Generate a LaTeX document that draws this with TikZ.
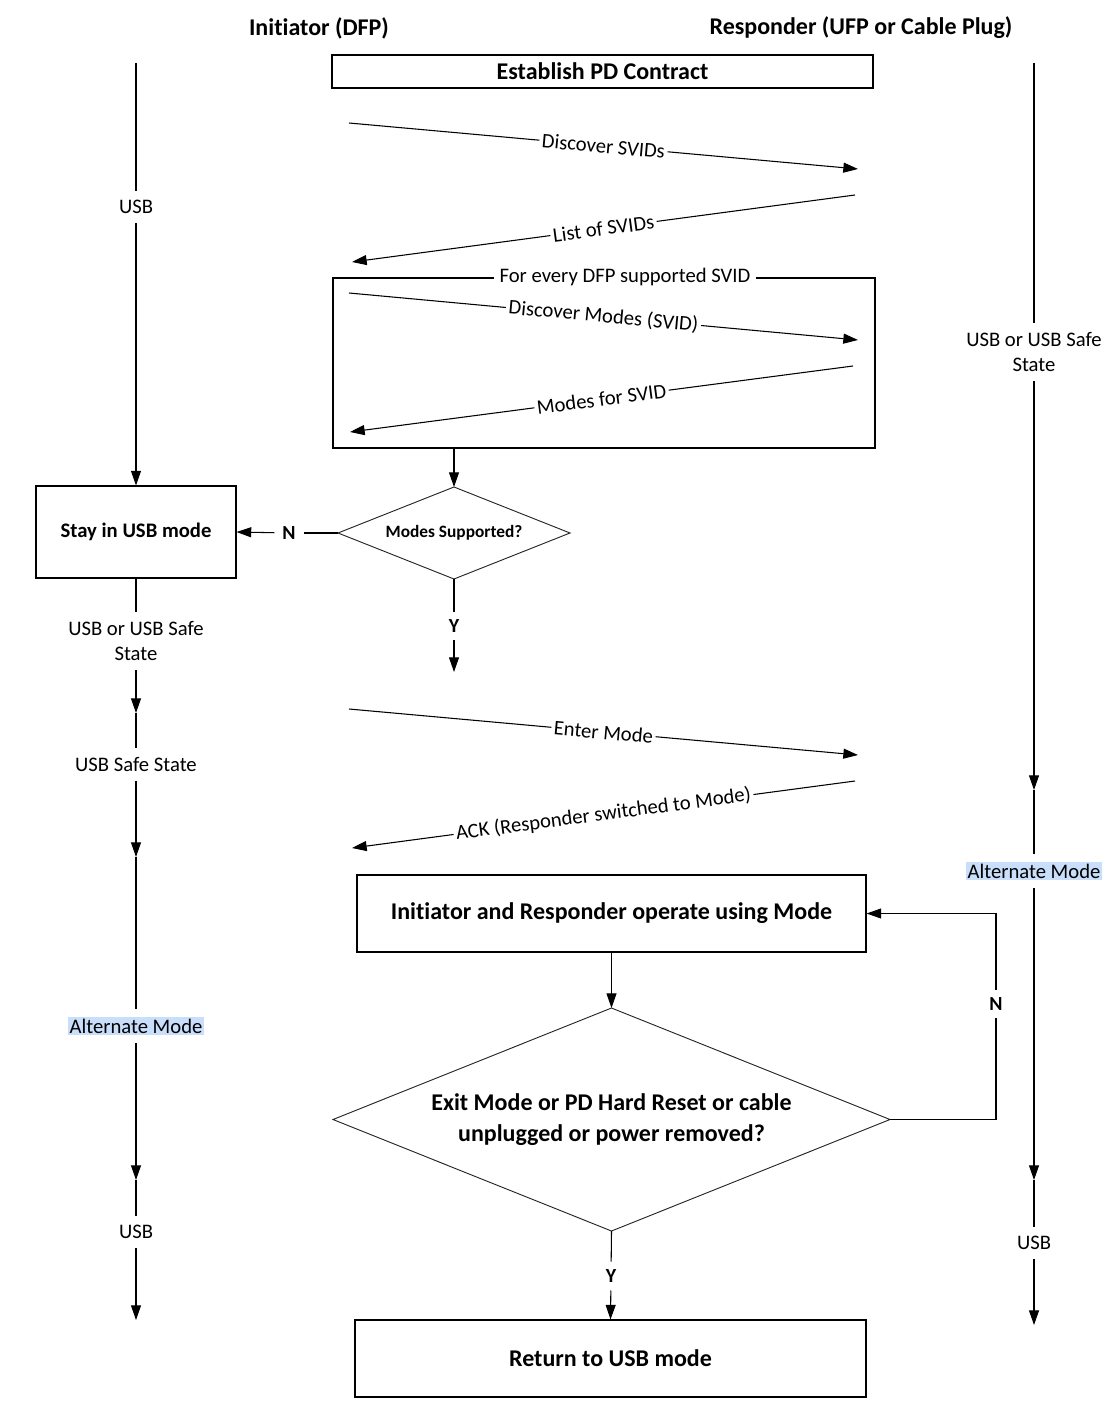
\documentclass[tikz,border=0pt]{standalone}
\usepackage{fontspec}
\setmainfont[Ligatures=NoCommon]{Carlito}
\usetikzlibrary{arrows.meta}
\definecolor{altblue}{RGB}{200,222,250}
\begin{document}
\begin{tikzpicture}[x=0.75pt,y=-0.75pt,
  line width=0.8pt,
  arr/.style={-{Triangle[length=11pt,width=7.5pt]}},
  lbl/.style={font=\fontsize{15.5}{18.5}\selectfont, align=center, inner sep=1pt, outer sep=6pt},
  alt/.style={lbl, fill=altblue, inner sep=1.5pt},
  yn/.style={font=\bfseries\fontsize{15}{18}\selectfont, inner sep=1pt, outer sep=5pt},
  hdr/.style={font=\bfseries\fontsize{18}{21}\selectfont},
  box/.style={draw, align=center, font=\bfseries\fontsize{18}{21}\selectfont, inner sep=0pt},
  dia/.style={draw=black!85, line width=0.7pt},
  msg/.style={font=\fontsize{15.5}{18.5}\selectfont, sloped, fill=white, inner sep=2pt},
]
\useasboundingbox (0,0) rectangle (1117,1426);

% headers
\node[hdr] (hinit) at (319,28) {Initiator (DFP)};
\node[hdr] (hresp) at (861,28) {Responder (UFP or Cable Plug)};

% boxes
\node[box, minimum width=405.75pt, minimum height=24.75pt] (est) at (602.5,71.5) {Establish PD Contract};
\node[box, minimum width=150pt, minimum height=69pt, font=\bfseries\fontsize{15.5}{18.5}\selectfont] (stay) at (136,532) {Stay in USB mode};
\node[draw, minimum width=406.5pt, minimum height=127.5pt, inner sep=0pt] (loop) at (604,363) {};
\node[font=\fontsize{15.5}{18.5}\selectfont, fill=white, inner sep=4pt] (looptitle) at (625,277) {For every DFP supported SVID};

% small decision
\node[font=\bfseries\fontsize{13}{15}\selectfont] (sd) at (454,533) {Modes Supported?};
\coordinate (sdN) at (454,487); \coordinate (sdS) at (454,579);
\coordinate (sdW) at (338,533); \coordinate (sdE) at (570,533);
\draw[dia] (sdN) -- (sdE) -- (sdS) -- (sdW) -- cycle;

\node[box, minimum width=381.75pt, minimum height=57.75pt] (op) at (611.5,913.5) {Initiator and Responder operate using Mode};

% big decision
\node[align=center, font=\bfseries\fontsize{18}{23}\selectfont] (bd) at (611.5,1119.5) {Exit Mode or PD Hard Reset or cable\\unplugged or power removed?};
\coordinate (bdN) at (611.5,1008); \coordinate (bdS) at (611.5,1231);
\coordinate (bdW) at (333,1119.5); \coordinate (bdE) at (890,1119.5);
\draw[dia] (bdN) -- (bdE) -- (bdS) -- (bdW) -- cycle;

\node[box, minimum width=383.25pt, minimum height=57.75pt] (ret) at (610.5,1358.5) {Return to USB mode};

% messages
\coordinate (m1s) at (349,123); \coordinate (m1e) at (858,169);
\draw[arr] (m1s) -- node[msg]{Discover SVIDs} (m1e);
\coordinate (m2s) at (855,195); \coordinate (m2e) at (352,262);
\draw[arr] (m2s) -- node[msg]{List of SVIDs} (m2e);
\coordinate (m3s) at (349,293); \coordinate (m3e) at (858,340);
\draw[arr] (m3s) -- node[msg]{Discover Modes (SVID)} (m3e);
\coordinate (m4s) at (853,366); \coordinate (m4e) at (350,432);
\draw[arr] (m4s) -- node[msg]{Modes for SVID} (m4e);
\coordinate (m5s) at (349,709); \coordinate (m5e) at (858,755);
\draw[arr] (m5s) -- node[msg]{Enter Mode} (m5e);
\coordinate (m6s) at (855,781); \coordinate (m6e) at (352,848);
\draw[arr] (m6s) -- node[msg]{ACK (Responder switched to Mode)} (m6e);

% center flow
\draw[arr] (sdN |- loop.south) -- (sdN);
\node[yn] (n1) at (289,533) {N};
\draw (sdW) -- (n1);
\draw[arr] (n1) -- (stay.east);
\node[yn] (y1) at (454,626) {Y};
\coordinate (y1end) at (454,672);
\draw (sdS) -- (y1);
\draw[arr] (y1) -- (y1end);
\draw[arr] (op.south) -- (bdN);
\node[yn] (n2) at (996,1004) {N};
\draw (bdE) -| (n2.south);
\draw[arr] (n2.north) |- (op.east);
\node[yn] (y2) at (611,1276) {Y};
\draw (bdS) -- (y2);
\draw[arr] (y2) -- (ret.north);

% left lifeline
\coordinate (lTop) at (136,63);
\node[lbl] (l1) at (136,207) {USB};
\draw (lTop) -- (l1);
\draw[arr] (l1) -- (stay.north);
\node[lbl] (l2) at (136,641) {USB or USB Safe\\State};
\draw (stay.south) -- (l2);
\coordinate (la) at (136,713);
\node[lbl] (l3) at (136,764) {USB Safe State};
\draw[arr] (l2) -- (la); \draw (la) -- (l3);
\coordinate (lb) at (136,857);
\node[alt] (l4) at (136,1026) {Alternate Mode};
\draw[arr] (l3) -- (lb); \draw (lb) -- (l4);
\coordinate (lc) at (136,1180);
\node[lbl] (l5) at (136,1232) {USB};
\draw[arr] (l4) -- (lc); \draw (lc) -- (l5);
\coordinate (lEnd) at (136,1320);
\draw[arr] (l5) -- (lEnd);

% right lifeline
\coordinate (rTop) at (1034,63);
\node[lbl] (r1) at (1034,352) {USB or USB Safe\\State};
\draw (rTop) -- (r1);
\coordinate (ra) at (1034,790);
\node[alt] (r2) at (1034,871) {Alternate Mode};
\draw[arr] (r1) -- (ra); \draw (ra) -- (r2);
\coordinate (rb) at (1034,1180);
\node[lbl] (r3) at (1034,1243) {USB};
\draw[arr] (r2) -- (rb); \draw (rb) -- (r3);
\coordinate (rEnd) at (1034,1325);
\draw[arr] (r3) -- (rEnd);
\end{tikzpicture}
\end{document}
